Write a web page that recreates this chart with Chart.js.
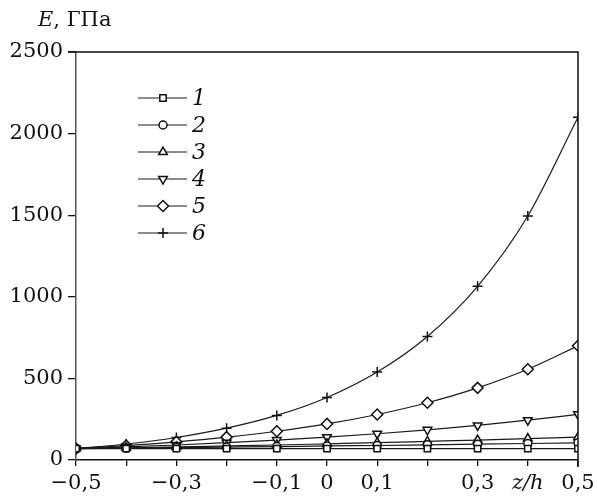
<!DOCTYPE html>
<html>
<head>
<meta charset="utf-8">
<script src="https://cdn.jsdelivr.net/npm/chart.js@4"></script>
<style>
html,body{margin:0;padding:0;background:#fff;}
#wrap{width:597px;height:500px;position:relative;}
</style>
</head>
<body>
<div id="wrap"><canvas id="c"></canvas></div>
<script>
const zValues = [-0.5,-0.4,-0.3,-0.2,-0.1,0,0.1,0.2,0.3,0.4,0.5];
const xTickLabels = ['\u22120,5','','\u22120,3','','\u22120,1','0','0,1','','0,3','z/h','0,5'];
const yTickLabels = ['0','500','1000','1500','2000','2500'];
const seriesNames = ['1','2','3','4','5','6'];
const s1 = [70,70,70,70,70,70,70,70,70,70,70];
const s2 = [70,73,76,79,82,86,89,93,97,101,105];
const s3 = [70,75,80,86,92,99,106,114,122,131,140];
const s4 = [70,80,92,106,122,140,161,185,212,244,280];
const s5 = [70,88,111,140,176,221,279,351,442,556,700];
const s6 = [70,98,138,195,273,383,539,757,1064,1495,2100];
const seriesValues = [s1,s2,s3,s4,s5,s6];

const markers = [
  {style:'rect', radius:4.5, rotation:0},
  {style:'circle', radius:4, rotation:0},
  {style:'triangle', radius:5, rotation:0},
  {style:'triangle', radius:5, rotation:180},
  {style:'rectRot', radius:5.5, rotation:0},
  {style:'cross', radius:5, rotation:0}
];

const datasets = seriesValues.map((vals,i)=>({
  label: seriesNames[i],
  data: vals.map((v,j)=>({x:zValues[j], y:v})),
  borderColor:'#1a1a1a',
  borderWidth:1.2,
  pointStyle: markers[i].style,
  pointRadius: markers[i].radius,
  pointRotation: markers[i].rotation,
  pointBackgroundColor:'#fff',
  pointBorderColor:'#111',
  pointBorderWidth:1.5,
  cubicInterpolationMode:'monotone',
  fill:false
}));

const serif = '"DejaVu Serif", "Liberation Serif", serif';

const extras = {
  id:'extras',
  afterDraw(chart){
    const ctx = chart.ctx;
    const a = chart.chartArea;
    ctx.save();
    ctx.strokeStyle = '#111';
    ctx.lineWidth = 1.5;
    ctx.beginPath();
    ctx.moveTo(a.left-8, a.top);
    ctx.lineTo(a.right, a.top);
    ctx.lineTo(a.right, a.bottom+7);
    ctx.stroke();
    ctx.fillStyle = '#111';
    ctx.textBaseline = 'alphabetic';
    ctx.font = 'italic 21px ' + serif;
    ctx.fillText('E', 38, 26);
    const w = ctx.measureText('E').width;
    ctx.font = '21px ' + serif;
    ctx.fillText(', \u0413\u041f\u0430', 38 + w, 26);
    for (let i=0;i<6;i++){
      const y = 98 + i*27;
      ctx.strokeStyle = '#1a1a1a';
      ctx.lineWidth = 1.2;
      ctx.beginPath();
      ctx.moveTo(138, y); ctx.lineTo(187, y);
      ctx.stroke();
      ctx.fillStyle = '#fff';
      ctx.strokeStyle = '#111';
      ctx.lineWidth = 1.5;
      Chart.helpers.drawPoint(ctx, {pointStyle: markers[i].style, radius: markers[i].radius, rotation: markers[i].rotation, borderWidth:1.5}, 163, y);
      ctx.fillStyle = '#111';
      ctx.font = 'italic 22px ' + serif;
      ctx.textBaseline = 'middle';
      ctx.fillText(seriesNames[i], 192, y+1);
    }
    ctx.restore();
  }
};

new Chart(document.getElementById('c'), {
  type:'line',
  data:{datasets},
  options:{
    responsive:true,
    maintainAspectRatio:false,
    animation:false,
    layout:{padding:{top:52,right:19,left:0,bottom:0}},
    plugins:{legend:{display:false},tooltip:{enabled:false}},
    scales:{
      x:{
        type:'linear', min:-0.5, max:0.5,
        afterFit(s){ s.height = 40; s.paddingLeft = 0; s.paddingRight = 0; },
        afterBuildTicks(s){ s.ticks = zValues.map(v=>({value:v})); },
        ticks:{
          autoSkip:false, maxRotation:0, color:'#111', padding:5,
          font:(c)=>({family:serif, size:21, style: c.index===9 ? 'italic':'normal'}),
          callback:(v,i)=>xTickLabels[i]
        },
        grid:{drawOnChartArea:false, tickLength:6, color:'#111', lineWidth:1.3},
        border:{color:'#111', width:1.5}
      },
      y:{
        min:0, max:2500,
        afterFit(s){ s.width = 76; s.paddingTop = 0; s.paddingBottom = 0; },
        afterBuildTicks(s){ s.ticks = yTickLabels.map(t=>({value:Number(t)})); },
        ticks:{
          color:'#111', padding:5,
          font:{family:serif, size:21},
          callback:(v,i)=>yTickLabels[i]
        },
        grid:{drawOnChartArea:false, tickLength:8, color:'#111', lineWidth:1.3},
        border:{color:'#555', width:1.5}
      }
    }
  },
  plugins:[extras]
});
</script>
</body>
</html>
